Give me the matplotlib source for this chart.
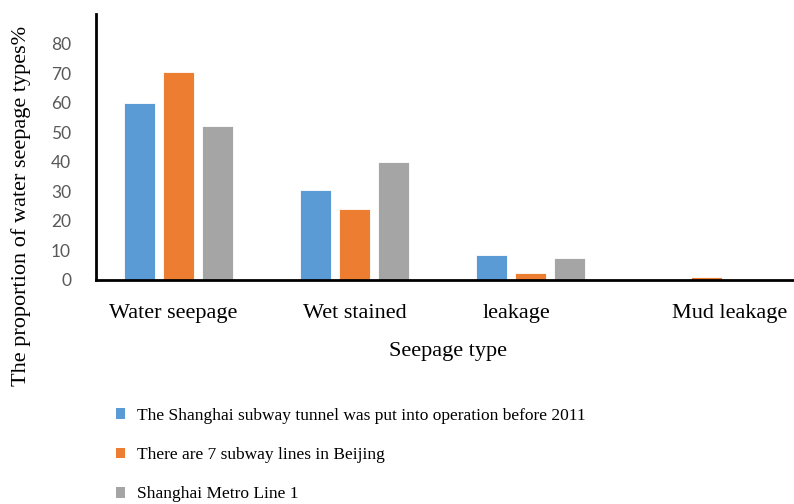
import numpy as np
import matplotlib.pyplot as plt
import matplotlib.transforms as mtransforms
from matplotlib.patches import Patch

# seepage type shares (%) per survey
categories = ["Water seepage", "Wet stained", "leakage", "Mud leakage"]
series_names = [
    "The Shanghai subway tunnel was put into operation before 2011",
    "There are 7 subway lines in Beijing",
    "Shanghai Metro Line 1",
]
shanghai_pre2011 = [60, 30.5, 8.5, 0]
beijing_7_lines = [70.5, 24, 2.5, 1]
shanghai_line1 = [52, 40, 7.5, 0]
yticks = [0, 10, 20, 30, 40, 50, 60, 70, 80]

colors = ["#5B9BD5", "#ED7D31", "#A5A5A5"]
serif = "Liberation Serif"

fig = plt.figure(figsize=(7.94, 5.04), dpi=100)
ax = fig.add_axes([96 / 794, 224 / 504, 704 / 794, 266 / 504])

x = np.arange(len(categories))
width = 0.176
step = 0.222
all_series = [shanghai_pre2011, beijing_7_lines, shanghai_line1]
for i, (vals, c) in enumerate(zip(all_series, colors)):
    ax.bar(x + (i - 1) * step, vals, width, color=c, edgecolor="white", linewidth=0.6)

ax.set_xlim(-0.47, 3.53)
ax.set_ylim(0, 90)
ax.set_yticks(yticks)
ax.set_xticks(x)
ax.set_xticklabels(categories, fontfamily=serif, fontsize=16)
ax.tick_params(axis="y", length=0, pad=18, labelsize=12.5, labelcolor="#595959")
ax.tick_params(axis="x", length=0, pad=17)
for lab in ax.get_yticklabels():
    lab.set_fontfamily("Lato")

# nudge category labels sideways (pixels)
label_shift = [-6, 0, -14, 23]
for lab, dx in zip(ax.get_xticklabels(), label_shift):
    lab.set_transform(lab.get_transform() + mtransforms.ScaledTranslation(dx / 100, 0, fig.dpi_scale_trans))

for side in ["top", "right"]:
    ax.spines[side].set_visible(False)
ax.spines["left"].set_linewidth(2)
ax.spines["bottom"].set_linewidth(2)

ax.set_xlabel("Seepage type", fontfamily=serif, fontsize=16, labelpad=14)
fig.text(21 / 794, 1 - 206 / 504, "The proportion of water seepage types%",
         rotation=90, ha="center", va="center", fontfamily=serif, fontsize=16)

handles = [Patch(facecolor=c, edgecolor="none") for c in colors]
fig.legend(handles, series_names, loc="upper left", bbox_to_anchor=(100 / 794, 1 - 392 / 504),
           frameon=False, prop={"family": serif, "size": 12.5},
           handlelength=0.55, handleheight=0.55, handletextpad=0.7, labelspacing=1.35)

fig.savefig("out.png", dpi=100)
